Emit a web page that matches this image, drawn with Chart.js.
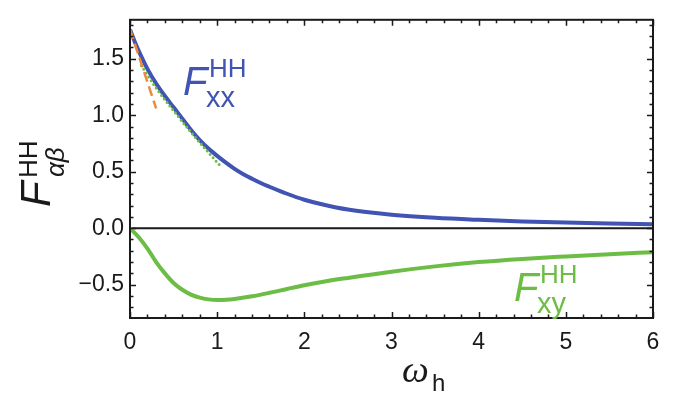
<!DOCTYPE html>
<html>
<head>
<meta charset="utf-8">
<script src="https://cdn.jsdelivr.net/npm/chart.js@4"></script>
<style>
  html, body { margin: 0; padding: 0; background: #fff; }
  #wrap { width: 689px; height: 393px; }
</style>
</head>
<body>
<div id="wrap"><canvas id="fChart" width="689" height="393"></canvas></div>
<script>
// F_xx^HH (blue, solid)
const omegaXX = [0, 0.05, 0.1, 0.2, 0.3, 0.4, 0.5, 0.6, 0.7, 0.8, 0.9, 1.0, 1.1, 1.2, 1.3, 1.4, 1.5, 1.6, 1.8, 2.0, 2.2, 2.5, 3.0, 3.5, 4.0, 4.5, 5.0, 5.5, 6.0];
const fXX = [1.76, 1.66, 1.57, 1.41, 1.28, 1.17, 1.07, 0.97, 0.87, 0.78, 0.705, 0.64, 0.58, 0.525, 0.478, 0.438, 0.40, 0.367, 0.305, 0.252, 0.212, 0.165, 0.12, 0.092, 0.074, 0.060, 0.050, 0.042, 0.035];

// F_xy^HH (green, solid)
const omegaXY = [0, 0.1, 0.2, 0.3, 0.4, 0.5, 0.6, 0.7, 0.8, 0.9, 1.0, 1.1, 1.2, 1.4, 1.6, 1.8, 2.0, 2.2, 2.5, 3.0, 3.5, 4.0, 4.5, 5.0, 5.5, 6.0];
const fXY = [0, -0.08, -0.18, -0.30, -0.40, -0.485, -0.545, -0.588, -0.615, -0.63, -0.636, -0.634, -0.627, -0.603, -0.572, -0.538, -0.505, -0.476, -0.44, -0.385, -0.338, -0.30, -0.272, -0.25, -0.23, -0.212];

// small-omega approximations (orange dashed, green dotted)
const omegaLinear = [0, 0.3];
const fLinear = [1.76, 1.06];
const omegaSeries = [0.13, 0.3, 0.5, 0.7, 0.9, 1.05];
const fSeries = [1.44, 1.24, 1.04, 0.85, 0.67, 0.54];

// axis ticks
const xTicks = [0, 1, 2, 3, 4, 5, 6];
const yTicks = [-0.5, 0, 0.5, 1.0, 1.5];

const BLUE = "#4154b3";
const GREEN = "#6cbd45";
const ORANGE = "#ec8a3a";
const INK = "#1a1a1a";

function pts(xs, ys) {
  return xs.map((x, i) => ({ x: x, y: ys[i] }));
}

// label like F^sup_sub
function drawSymbol(ctx, color, x, y, size, main, sup, supDx, supDy, sub, subDx, subDy, subFont) {
  ctx.fillStyle = color;
  ctx.textBaseline = "alphabetic";
  ctx.textAlign = "left";
  ctx.font = "italic " + size + "px 'Liberation Sans'";
  ctx.fillText(main, x, y);
  ctx.font = "26px 'Liberation Sans'";
  ctx.fillText(sup, x + supDx, y + supDy);
  ctx.font = subFont || "29px 'Liberation Sans'";
  ctx.fillText(sub, x + subDx, y + subDy);
}

const framePlugin = {
  id: "frame",
  afterDraw(chart) {
    const { ctx, chartArea: a, scales } = chart;
    const xs = scales.x, ys = scales.y;
    ctx.save();

    // inward tick marks on all four sides
    ctx.strokeStyle = INK;
    ctx.lineWidth = 1.5;
    ctx.beginPath();
    for (let i = 0; i <= 30; i++) {
      const v = i * 0.2;
      const px = Math.round(xs.getPixelForValue(v)) + 0.5;
      const len = i % 5 === 0 ? 6 : 3.5;
      ctx.moveTo(px, a.bottom); ctx.lineTo(px, a.bottom - len);
      ctx.moveTo(px, a.top); ctx.lineTo(px, a.top + len);
    }
    for (let i = -7; i <= 18; i++) {
      const v = i * 0.1;
      const py = Math.round(ys.getPixelForValue(v)) + 0.5;
      const len = i % 5 === 0 ? 6 : 3.5;
      ctx.moveTo(a.left, py); ctx.lineTo(a.left + len, py);
      ctx.moveTo(a.right, py); ctx.lineTo(a.right - len, py);
    }
    ctx.stroke();

    // frame
    ctx.lineWidth = 2;
    ctx.strokeRect(a.left, a.top, a.right - a.left, a.bottom - a.top);

    // curve labels
    drawSymbol(ctx, BLUE, 183, 95, 40, "F", "HH", 26, -18, "xx", 23, 12);
    drawSymbol(ctx, GREEN, 514, 301, 40, "F", "HH", 26, -18, "xy", 23, 12);

    // y axis title, rotated
    ctx.save();
    ctx.translate(50, 207);
    ctx.rotate(-Math.PI / 2);
    drawSymbol(ctx, INK, 0, 0, 42, "F", "HH", 29, -13, "αβ", 30, 14, "italic 26px 'Liberation Sans'");
    ctx.restore();

    // x axis title
    ctx.fillStyle = INK;
    ctx.font = "italic 38px 'Liberation Serif'";
    ctx.fillText("ω", 402, 382);
    ctx.font = "24px 'Liberation Sans'";
    ctx.fillText("h", 432, 391);

    ctx.restore();
  }
};

new Chart(document.getElementById("fChart"), {
  type: "line",
  data: {
    datasets: [
      {
        data: pts(omegaLinear, fLinear),
        borderColor: ORANGE,
        borderWidth: 2.5,
        borderDash: [10, 5],
      },
      {
        data: pts(omegaSeries, fSeries),
        borderColor: GREEN,
        borderWidth: 3,
        borderDash: [0, 4.5],
        borderCapStyle: "round",
        cubicInterpolationMode: "monotone",
      },
      {
        data: pts(omegaXX, fXX),
        borderColor: BLUE,
        borderWidth: 4,
        cubicInterpolationMode: "monotone",
      },
      {
        data: pts(omegaXY, fXY),
        borderColor: GREEN,
        borderWidth: 4,
        cubicInterpolationMode: "monotone",
      },
      {
        data: pts([0, 6], [0, 0]),
        borderColor: INK,
        borderWidth: 2,
      },
    ],
  },
  options: {
    responsive: false,
    animation: false,
    events: [],
    layout: { padding: { left: 0, top: 6, right: 36, bottom: 0 } },
    elements: { point: { radius: 0 } },
    plugins: { legend: { display: false }, tooltip: { enabled: false } },
    scales: {
      x: {
        type: "linear",
        min: 0,
        max: 6,
        grid: { display: false, drawTicks: false },
        border: { display: false },
        afterBuildTicks: (s) => { s.ticks = xTicks.map((v) => ({ value: v })); },
        afterFit: (s) => { s.height = 75; },
        ticks: {
          color: INK,
          padding: 11,
          font: { family: "Liberation Sans", size: 23 },
          callback: (v) => String(v),
        },
      },
      y: {
        type: "linear",
        min: -0.795,
        max: 1.845,
        grid: { display: false, drawTicks: false },
        border: { display: false },
        afterBuildTicks: (s) => { s.ticks = yTicks.map((v) => ({ value: v })); },
        afterFit: (s) => { s.width = 130; },
        ticks: {
          color: INK,
          padding: 6,
          font: { family: "Liberation Sans", size: 23 },
          callback: (v) => (v < 0 ? "\u2212" : "") + Math.abs(v).toFixed(1),
        },
      },
    },
  },
  plugins: [framePlugin],
});
</script>
</body>
</html>
